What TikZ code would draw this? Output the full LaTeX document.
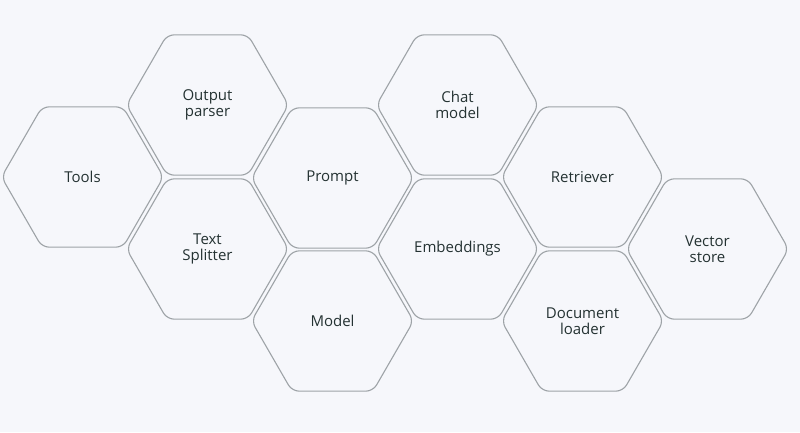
\documentclass[tikz,border=0pt]{standalone}
\usepackage{fontspec}
\setmainfont{Open Sans}
\usepackage{tikz}
\usetikzlibrary{shapes.geometric}
\definecolor{bgcol}{HTML}{F6F7FB}
\definecolor{hexline}{HTML}{9EA3A7}
\definecolor{hextext}{HTML}{243232}

\begin{document}
\begin{tikzpicture}[x=1pt,y=-1pt,
  hexa/.style={regular polygon,regular polygon sides=6,minimum size=162pt,
    inner sep=0pt,draw=hexline,line width=1.1pt,rounded corners=7pt,
    fill=bgcol,text=hextext,align=center,
    font=\fontsize{15}{16}\selectfont}]
\fill[bgcol] (0,0) rectangle (800,432);
\node[hexa] (tools)   at (82.5,177)  {Tools};
\node[hexa] (parser)  at (207.5,105) {Output\\parser};
\node[hexa] (split)   at (207.5,249) {Text\\Splitter};
\node[hexa] (prompt)  at (332.5,178) {Prompt};
\node[hexa] (model)   at (332.5,321) {Model};
\node[hexa] (chat)    at (457.5,105) {Chat\\model};
\node[hexa] (embed)   at (457.5,249) {Embeddings};
\node[hexa] (retr)    at (582.5,177) {Retriever};
\node[hexa] (loader)  at (582.5,321) {Document\\loader};
\node[hexa] (vstore)  at (707.5,249) {Vector\\store};
\end{tikzpicture}
\end{document}
